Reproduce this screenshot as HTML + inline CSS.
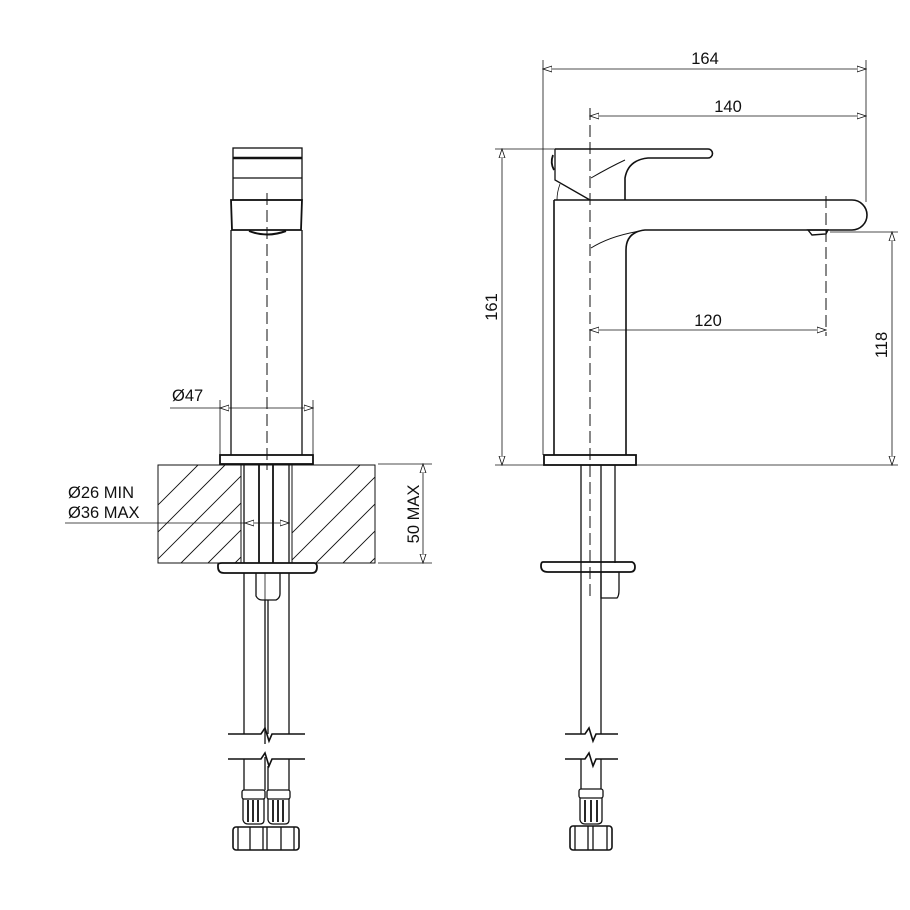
<!DOCTYPE html>
<html><head><meta charset="utf-8"><style>
html,body{margin:0;padding:0;background:#fff}
svg{display:block}
text{font-family:"Liberation Sans",sans-serif;font-size:16.5px;fill:#111}
</style></head><body>
<svg width="910" height="910" viewBox="0 0 910 910" xmlns="http://www.w3.org/2000/svg">
<defs>
<marker id="a" markerWidth="10" markerHeight="8" refX="9" refY="4" orient="auto-start-reverse" markerUnits="userSpaceOnUse">
<path d="M0,1 L9,4 L0,7 Z" fill="#fff" stroke="#111" stroke-width="0.8"/></marker>
<clipPath id="hl"><rect x="158" y="465" width="83" height="98"/></clipPath>
<clipPath id="hr"><rect x="292" y="465" width="83" height="98"/></clipPath>
</defs>
<g fill="none" stroke="#111" stroke-width="1.3">
<!-- LEFT VIEW -->
<rect x="233" y="148" width="69" height="52"/>
<line x1="233" y1="158" x2="302" y2="158" stroke-width="2.5"/>
<line x1="233" y1="178" x2="302" y2="178"/>
<path d="M231,200 L302,200 L301,230 L232,230 Z" stroke-width="1.8"/>
<path d="M249,231 Q267,238 286,231" stroke-width="2"/>
<line x1="231" y1="230" x2="231" y2="455"/>
<line x1="302" y1="230" x2="302" y2="455"/>
<line x1="267" y1="193" x2="267" y2="470" stroke-dasharray="12,5" stroke-width="1"/>
<!-- Ø47 -->
<line x1="220" y1="400" x2="220" y2="455" stroke-width="0.8"/>
<line x1="313" y1="400" x2="313" y2="455" stroke-width="0.8"/>
<line x1="170" y1="408" x2="220" y2="408" stroke-width="0.8"/>
<line x1="220" y1="408" x2="313" y2="408" stroke-width="0.8" marker-start="url(#a)" marker-end="url(#a)"/>
<rect x="220" y="455" width="93" height="9" stroke-width="1.8"/>
<!-- counter block -->
<rect x="158" y="465" width="217" height="98" stroke-width="1"/>
<g clip-path="url(#hl)" stroke-width="0.9">
<path d="M100,563 L198,465 M127,563 L225,465 M154,563 L252,465 M181,563 L279,465 M208,563 L306,465 M235,563 L333,465 M262,563 L360,465"/>
</g>
<g clip-path="url(#hr)" stroke-width="0.9">
<path d="M262,563 L360,465 M289,563 L387,465 M316,563 L414,465 M343,563 L441,465 M370,563 L468,465"/>
</g>
<line x1="241" y1="465" x2="241" y2="563" stroke-width="1"/>
<line x1="292" y1="465" x2="292" y2="563" stroke-width="1"/>
<line x1="244" y1="465" x2="244" y2="563"/>
<line x1="259" y1="465" x2="259" y2="563" stroke-width="1.8"/>
<line x1="273" y1="465" x2="273" y2="563" stroke-width="1.8"/>
<line x1="289" y1="465" x2="289" y2="563"/>
<line x1="65" y1="523" x2="245" y2="523" stroke-width="0.8"/>
<line x1="245" y1="523" x2="289" y2="523" stroke-width="0.8" marker-start="url(#a)" marker-end="url(#a)"/>
<!-- 50 MAX -->
<line x1="378" y1="464" x2="432" y2="464" stroke-width="0.8"/>
<line x1="378" y1="563" x2="432" y2="563" stroke-width="0.8"/>
<line x1="423" y1="464" x2="423" y2="563" stroke-width="0.8" marker-start="url(#a)" marker-end="url(#a)"/>
<path d="M218,565 Q218,563 222,563 L314,563 Q317,563 317,567 Q317,573 312,573 L224,573 Q218,573 218,567 Z" stroke-width="1.8"/>
<path d="M256,573 L256,596 Q258,600 262,600 L276,600 Q280,598 280,594 L280,573"/>
<line x1="265" y1="573" x2="265" y2="600" stroke-width="0.8"/>
<line x1="244" y1="573" x2="244" y2="734"/>
<line x1="289" y1="573" x2="289" y2="734"/>
<line x1="265" y1="600" x2="265" y2="744"/>
<line x1="268" y1="600" x2="268" y2="734"/>
<path d="M228,734 L261,734 L265,728 L269,741 L272,734 L305,734" stroke-width="1.6"/>
<path d="M228,759 L261,759 L265,753 L269,766 L272,759 L305,759" stroke-width="1.6"/>
<line x1="244" y1="759" x2="244" y2="790"/>
<line x1="289" y1="759" x2="289" y2="790"/>
<line x1="265" y1="757" x2="265" y2="790"/>
<line x1="268" y1="766" x2="268" y2="790"/>
<rect x="242" y="790" width="23" height="9" rx="2"/>
<rect x="267" y="790" width="23" height="9" rx="2"/>
<path d="M243,799 L243,820 Q244,824 248,824 L260,824 Q264,824 264,820 L264,799"/>
<path d="M268,799 L268,820 Q269,824 273,824 L285,824 Q289,824 289,820 L289,799"/>
<path d="M248,800 V822 M253,800 V822 M258,800 V822 M273,800 V822 M278,800 V822 M283,800 V822" stroke-width="1.8"/>
<rect x="233" y="827" width="66" height="23" rx="3" stroke-width="1.6"/>
<path d="M238,827 V850 M250,827 V850 M263,827 V850 M267,827 V850 M281,827 V850 M294,827 V850"/>
<!-- RIGHT VIEW -->
<path d="M555,149 L708,149 A4.5,4.5 0 0 1 708,158 L648,158 Q628,160 625,178 L625,200" stroke-width="1.6"/>
<path d="M555,149 L555,180 L590,200"/>
<path d="M553,155 Q550,163 554,170" stroke-width="1.8"/>
<path d="M560,184 Q557,192 557,200" stroke-width="0.8"/>
<path d="M591,178 Q610,167 625,160" stroke-width="1"/>
<path d="M554,200 L852,200 A15,15 0 0 1 852,230 L645,230 Q626,232 626,250 L626,455" stroke-width="1.6"/>
<path d="M591,248 Q610,236 640,231" stroke-width="1"/>
<line x1="554" y1="200" x2="554" y2="455" stroke-width="1.6"/>
<path d="M808,230 L828,230 L826,234 L812,235 Z" stroke-width="1.4"/>
<line x1="590" y1="108" x2="590" y2="600" stroke-dasharray="12,5" stroke-width="1"/>
<line x1="826" y1="196" x2="826" y2="336" stroke-dasharray="12,5" stroke-width="1"/>
<rect x="544" y="455" width="92" height="10" stroke-width="1.8"/>
<!-- dims right -->
<line x1="543" y1="60" x2="543" y2="455" stroke-width="0.8"/>
<line x1="866" y1="60" x2="866" y2="202" stroke-width="0.8"/>
<line x1="543" y1="69" x2="866" y2="69" stroke-width="0.8" marker-start="url(#a)" marker-end="url(#a)"/>
<line x1="590" y1="116" x2="866" y2="116" stroke-width="0.8" marker-start="url(#a)" marker-end="url(#a)"/>
<line x1="590" y1="330" x2="826" y2="330" stroke-width="0.8" marker-start="url(#a)" marker-end="url(#a)"/>
<line x1="495" y1="149" x2="555" y2="149" stroke-width="0.8"/>
<line x1="495" y1="465" x2="898" y2="465" stroke-width="0.8"/>
<line x1="502" y1="149" x2="502" y2="465" stroke-width="0.8" marker-start="url(#a)" marker-end="url(#a)"/>
<line x1="830" y1="232" x2="898" y2="232" stroke-width="0.8"/>
<line x1="892" y1="232" x2="892" y2="465" stroke-width="0.8" marker-start="url(#a)" marker-end="url(#a)"/>
<!-- right below -->
<line x1="581" y1="465" x2="581" y2="734"/>
<line x1="601" y1="465" x2="601" y2="734"/>
<line x1="615" y1="465" x2="615" y2="563"/>
<path d="M543,562 L632,562 Q635,563 635,567 Q635,572 630,572 L548,572 Q541,572 541,566 Q541,562 543,562 Z" stroke-width="1.8"/>
<path d="M601,572 L601,598 L617,598 Q619,596 619,590 L619,572"/>
<path d="M565,734 L585,734 L589,728 L593,741 L596,734 L618,734" stroke-width="1.6"/>
<path d="M565,759 L585,759 L589,753 L593,766 L596,759 L618,759" stroke-width="1.6"/>
<line x1="581" y1="759" x2="581" y2="789"/>
<line x1="601" y1="759" x2="601" y2="789"/>
<rect x="579" y="789" width="24" height="9" rx="2"/>
<path d="M580,798 L580,820 Q581,824 585,824 L597,824 Q602,824 602,820 L602,798"/>
<path d="M585,800 V822 M591,800 V822 M597,800 V822" stroke-width="1.8"/>
<rect x="570" y="826" width="42" height="24" rx="3" stroke-width="1.6"/>
<path d="M575,826 V850 M588,826 V850 M593,826 V850 M607,826 V850"/>
</g>
<text x="172" y="401">Ø47</text>
<text x="68" y="498">Ø26 MIN</text>
<text x="68" y="518">Ø36 MAX</text>
<text transform="translate(419,514) rotate(-90)" text-anchor="middle">50 MAX</text>
<text x="705" y="64" text-anchor="middle">164</text>
<text x="728" y="112" text-anchor="middle">140</text>
<text x="708" y="326" text-anchor="middle">120</text>
<text transform="translate(497,307) rotate(-90)" text-anchor="middle">161</text>
<text transform="translate(887,345) rotate(-90)" text-anchor="middle">118</text>
</svg>
</body></html>
